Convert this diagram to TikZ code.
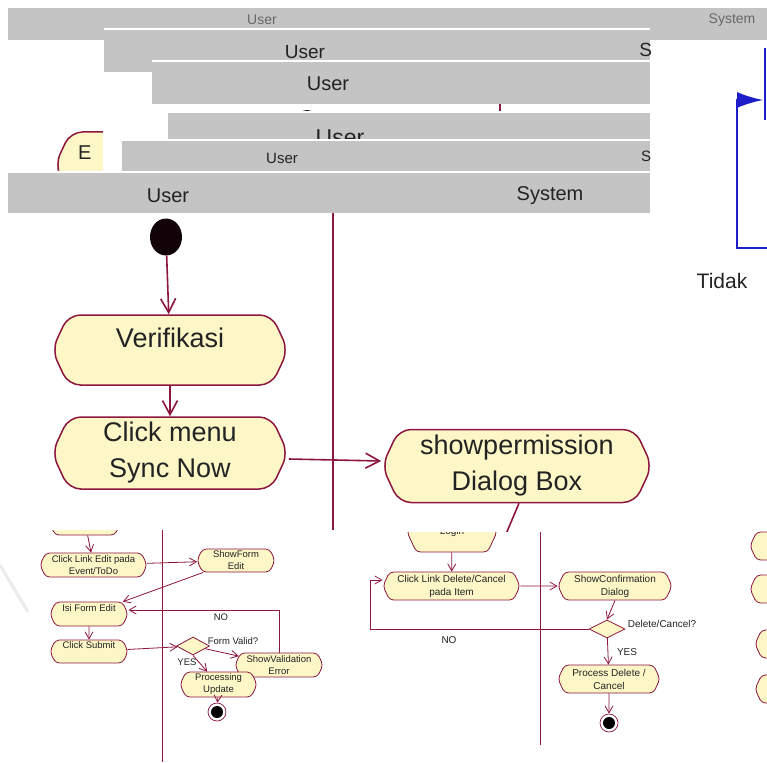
\documentclass[tikz,border=0pt]{standalone}
\usepackage{fontspec}
\setmainfont{Liberation Sans}
\usepackage{tikz}
\usetikzlibrary{shapes,arrows,arrows.meta}
\definecolor{lanegray}{RGB}{196,196,196}
\definecolor{umlred}{RGB}{140,22,62}
\definecolor{umlfill}{RGB}{253,247,200}
\definecolor{umlblue}{RGB}{30,30,200}
\definecolor{inktxt}{RGB}{35,35,35}
\newcommand{\hugetxt}{\fontsize{27}{36}\selectfont}
\newcommand{\lanetxt}{\fontsize{20}{24}\selectfont}
\newcommand{\tinytxt}{\fontsize{9.5}{12}\selectfont}
\newcommand{\smalltxt}{\fontsize{10}{13}\selectfont}
\tikzstyle{lanebar} = [fill=lanegray]
\tikzstyle{lanelabel} = [text=inktxt, font=\lanetxt]
\tikzstyle{activity} = [signal, signal to=west and east, signal pointer angle=130, draw=umlred, fill=umlfill, line width=1.5pt, text centered, rounded corners=12pt, minimum width=236pt, text=inktxt, align=center, font=\hugetxt]
\tikzstyle{minor} = [signal, signal to=west and east, signal pointer angle=130, draw=umlred, fill=umlfill, line width=0.8pt, rounded corners=4pt, inner sep=1pt, text=inktxt, align=center, font=\tinytxt]
\tikzstyle{choice} = [diamond, draw=umlred, fill=umlfill, line width=0.8pt, inner sep=0pt]
\tikzstyle{initnode} = [ellipse, fill=black!88!umlred, minimum width=32pt, minimum height=37pt, inner sep=0pt]
\tikzstyle{endring} = [circle, draw=umlred, fill=white, line width=0.7pt, minimum size=18pt, inner sep=0pt]
\tikzstyle{flow} = [draw=umlred, line width=1.6pt, >={Straight Barb[length=14pt,width=15pt]}, ->]
\tikzstyle{thinflow} = [draw=umlred, line width=0.8pt, >={Straight Barb[length=7pt,width=8pt]}, ->]
\tikzstyle{divider} = [draw=umlred, line width=1.6pt]
\tikzstyle{thindivider} = [draw=umlred, line width=0.8pt]
\tikzstyle{note} = [text=inktxt, font=\tinytxt]
\begin{document}
\begin{tikzpicture}[x=1pt, y=-1pt]
   \path[use as bounding box, clip] (0,0) rectangle (767,762);
   \fill[white] (0,0) rectangle (767,762);
   % stacked lane headers
   \fill[lanebar] (8,8) rectangle (767,40);
   \node[text=black!60, font=\fontsize{14}{16}\selectfont] (hdrAu) at (262,20) {User};
   \node[text=black!60, font=\fontsize{14}{16}\selectfont] (hdrAs) at (732,20) {System};
   \fill[white] (104,28) rectangle (650,72);
   \fill[lanebar] (104,30) rectangle (650,72);
   \begin{scope}
      \clip (104,30) rectangle (650,72);
      \node[lanelabel, font=\fontsize{19}{22}\selectfont] (hdrBu) at (305,52) {User};
      \node[lanelabel, font=\fontsize{19}{22}\selectfont] (hdrBs) at (671,52) {System};
   \end{scope}
   \fill[white] (152,60) rectangle (650,104);
   \fill[lanebar] (152,62) rectangle (650,104);
   \node[lanelabel] (hdrCu) at (328,84) {User};
   \fill[black!88!umlred] (307,121) circle (11);
   \draw[thindivider, line width=1.2pt] (500,104) -- (500,113);
   % leftover node behind the headers
   \node[activity, minimum width=100pt, minimum height=66pt, text width=54pt, align=left, font=\fontsize{20}{24}\selectfont] (leftover) at (105,165) {E\\~};
   \fill[white] (103,104) rectangle (168,173);
   \fill[white] (168,111) rectangle (650,155);
   \fill[lanebar] (168,113) rectangle (650,155);
   \node[lanelabel, font=\fontsize{23}{26}\selectfont] (hdrDu) at (340,138) {User};
   \fill[white] (122,139) rectangle (650,173);
   \fill[lanebar] (122,141) rectangle (650,173);
   \begin{scope}
      \clip (122,141) rectangle (650,173);
      \node[lanelabel, font=\fontsize{15}{18}\selectfont] (hdrEu) at (282,158) {User};
      \node[lanelabel, font=\fontsize{15}{18}\selectfont] (hdrEs) at (666,158) {System};
   \end{scope}
   \fill[white] (8,171) rectangle (650,213);
   \fill[lanebar] (8,173) rectangle (650,213);
   \node[lanelabel] (hdrFu) at (168,196) {User};
   \node[lanelabel] (hdrFs) at (550,196) {System};
   % main sync diagram
   \begin{scope}
      \clip (8,213) rectangle (650,532);
      \draw[divider] (333,213) -- (333,532);
      \node[initnode] (init) at (166,237) {};
      \node[activity, minimum height=70pt, font=\fontsize{27}{24}\selectfont] (verify) at (170,350) {Verifikasi\\~};
      \node[activity, minimum height=72pt] (syncnow) at (170,453) {Click menu\\Sync Now};
      \node[activity, minimum height=73pt, minimum width=270pt] (permission) at (517,466) {showpermission\\Dialog Box};
      \coordinate (permout) at (506,534);
      \draw[flow] (init) -- (verify);
      \draw[flow] (verify) -- (syncnow);
      \draw[flow] ([yshift=-6pt]syncnow.east) -- ([yshift=5pt]permission.west);
      \draw[divider] ([xshift=2pt]permission.south) -- (permout);
   \end{scope}
   % blue fragment on the right
   \draw[umlblue, line width=1.8pt] (765,48) -- (765,120);
   \draw[umlblue, line width=1.8pt, -{Latex[length=26pt,width=16pt]}] (767,248) -- (737,248) -- (737,100) -- (763,100);
   \node[text=inktxt, font=\fontsize{21}{24}\selectfont] (tidak) at (722,281) {Tidak};
   \node[minor, minimum width=60pt, minimum height=28pt] (fragA) at (780,546) {};
   \node[minor, minimum width=60pt, minimum height=28pt] (fragB) at (780,589) {};
   \node[minor, minimum width=60pt, minimum height=28pt] (fragC) at (785,644) {};
   \node[minor, minimum width=60pt, minimum height=28pt] (fragD) at (785,689) {};
   \draw[black!8, line width=3pt] (0,565) -- (28,612);
   % edit diagram
   \fill[white] (33,530) rectangle (355,762);
   \begin{scope}
      \clip (33,530) rectangle (355,762);
      \draw[thindivider] (162,530) -- (162,762);
      \node[minor, minimum width=72pt, minimum height=26pt] (prevstep) at (85,522) {};
      \node[minor, minimum width=107pt, minimum height=24pt] (editlink) at (93.5,565) {Click Link Edit pada\\Event/ToDo};
      \node[minor, minimum width=78pt, minimum height=23pt] (editform) at (236,560.5) {ShowForm\\Edit};
      \node[minor, minimum width=78pt, minimum height=24pt] (fillform) at (89,614) {Isi Form Edit\\~};
      \node[minor, minimum width=78pt, minimum height=23pt] (submit) at (89,651.5) {Click Submit\\~};
      \node[choice, minimum width=33pt, minimum height=18pt] (valid) at (193,646) {};
      \node[minor, minimum width=88pt, minimum height=24pt] (showerr) at (279,665) {ShowValidation\\Error};
      \node[minor, minimum width=77pt, minimum height=25pt] (update) at (218.5,684.5) {Processing\\Update};
      \node[endring] (doneA) at (217,712) {};
      \fill[black] (doneA) circle (6);
      \draw[thinflow] (prevstep) -- (editlink);
      \draw[thinflow] (editlink) -- (editform);
      \draw[thinflow] (editform) -- (fillform);
      \draw[thinflow] (fillform) -- (submit);
      \draw[thinflow] (submit) -- (valid);
      \draw[thinflow] (valid) -- (showerr);
      \draw[thinflow] (showerr.north) |- ([yshift=4pt]fillform.east);
      \draw[thinflow] (valid.south) -- (update);
      \draw[thinflow] (update) -- (doneA);
      \node[note] (formq) at (233,641) {Form Valid?};
      \node[note] (editno) at (221,617) {NO};
      \node[note] (edityes) at (187,662) {YES};
   \end{scope}
   % delete diagram
   \fill[white] (358,532) rectangle (697,745);
   \begin{scope}
      \clip (358,532) rectangle (697,745);
      \draw[thindivider] (540,532) -- (540,745);
      \node[minor, minimum width=90pt, minimum height=40pt, font=\smalltxt] (login) at (452,532) {Login};
      \node[minor, minimum width=137pt, minimum height=28pt, font=\smalltxt] (dellink) at (451.5,586) {Click Link Delete/Cancel\\pada Item};
      \node[minor, minimum width=114pt, minimum height=28pt, font=\smalltxt] (confirm) at (615,586) {ShowConfirmation\\Dialog};
      \node[choice, minimum width=36pt, minimum height=18pt] (delq) at (607,629) {};
      \node[minor, minimum width=102pt, minimum height=28pt, font=\smalltxt] (dodelete) at (609,679) {Process Delete /\\Cancel};
      \node[endring] (doneB) at (609,723) {};
      \fill[black] (doneB) circle (6);
      \draw[thinflow] (login) -- (dellink);
      \draw[thinflow] (dellink) -- (confirm);
      \draw[thinflow] (confirm.south) -- (delq.north);
      \draw[thinflow] (delq) -- (dodelete);
      \draw[thinflow] (dodelete) -- (doneB);
      \draw[thinflow] (delq.west) -- (370,629) |- ([yshift=6pt]dellink.west);
      \node[note, font=\smalltxt] (delqtext) at (662,624) {Delete/Cancel?};
      \node[note, font=\smalltxt] (delyes) at (627,652) {YES};
      \node[note, font=\smalltxt] (delno) at (449,640) {NO};
   \end{scope}
\end{tikzpicture}
\end{document}
